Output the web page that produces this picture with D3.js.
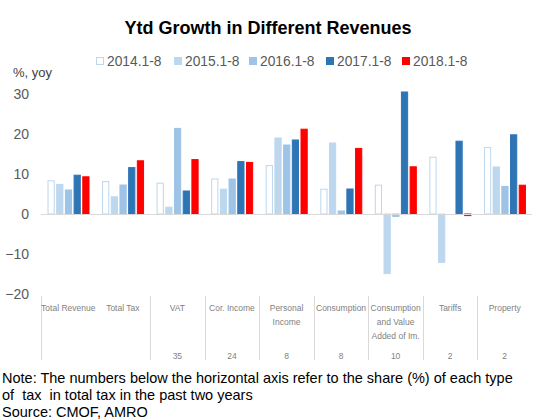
<!DOCTYPE html>
<html><head><meta charset="utf-8">
<script src="https://cdn.jsdelivr.net/npm/d3@7"></script>
<style>body{margin:0;background:#fff;}svg{display:block;}</style>
</head><body>
<script>
const categories = [["Total Revenue"],["Total Tax"],["VAT"],["Cor. Income"],["Personal","Income"],["Consumption"],["Consumption","and Value","Added of Im."],["Tariffs"],["Property"]];
const shares = ["","","35","24","8","8","10","2","2"];
const seriesNames = ["2014.1-8","2015.1-8","2016.1-8","2017.1-8","2018.1-8"];
const s2014 = [8.3, 8.1, 7.7, 8.75, 12.1, 6.2, 7.2, 14.2, 16.6];
const s2015 = [7.4, 4.3, 1.7, 6.2, 19.0, 17.75, -14.9, -12.1, 11.75];
const s2016 = [6.0, 7.25, 21.4, 8.75, 17.25, 0.75, -0.6, 0, 6.9];
const s2017 = [9.7, 11.6, 5.75, 13.1, 18.5, 6.25, 30.5, 18.2, 19.8];
const s2018 = [9.3, 13.3, 13.6, 12.9, 21.2, 16.4, 11.8, -0.4, 7.2];
const yTicks = [-20,-10,0,10,20,30];

const series = [s2014,s2015,s2016,s2017,s2018];
const fills = ["#ffffff","#bdd7ee","#9dc3e6","#2e75b6","#ff0000"];
const strokes = ["#bdd7ee","#bdd7ee","#9dc3e6","#2e75b6","#ff0000"];

const W=535,H=420;
const svg=d3.select("body").append("svg").attr("width",W).attr("height",H);
const font="'Liberation Sans', Arial, sans-serif";

svg.append("text").attr("x",268).attr("y",34).attr("text-anchor","middle")
  .attr("font-family",font).attr("font-weight","bold").attr("font-size",18).attr("fill","#000")
  .text("Ytd Growth in Different Revenues");

// legend
const legX=[96,174,249,326,402];
seriesNames.forEach((n,i)=>{
  svg.append("rect").attr("x",legX[i]+0.5).attr("y",57.5).attr("width",7).attr("height",7)
    .attr("fill",fills[i]).attr("stroke",strokes[i]).attr("stroke-width",1);
  svg.append("text").attr("x",legX[i]+11).attr("y",66).attr("font-family",font).attr("font-size",13.8)
    .attr("fill","#595959").text(n);
});

svg.append("text").attr("x",13).attr("y",77).attr("font-family",font).attr("font-size",13)
  .attr("fill","#404040").text("%, yoy");

const y=d3.scaleLinear().domain([-20,30]).range([294,94]);
const x=d3.scaleBand().domain(d3.range(categories.length)).range([41,532]).padding(0);
const xs=d3.scaleBand().domain(d3.range(series.length)).range([6.5,48.5]).paddingInner(0.17);

const yAxis=d3.axisLeft(y).tickValues(yTicks).tickSize(0).tickPadding(0).tickFormat(d3.format("d"));
const ga=svg.append("g").attr("transform","translate(29,0)").call(yAxis);
ga.select(".domain").remove();
ga.selectAll("text").attr("font-family",font).attr("font-size",14).attr("fill","#595959").attr("dy","0.35em");

// bars
series.forEach((s,si)=>{
  svg.append("g").selectAll("rect").data(s).join("rect")
    .attr("x",(d,i)=>x(i)+xs(si)+0.5)
    .attr("y",d=>y(Math.max(0,d)))
    .attr("width",xs.bandwidth()-1)
    .attr("height",d=>Math.abs(y(d)-y(0)))
    .attr("fill",fills[si]).attr("stroke",strokes[si]).attr("stroke-width",1);
});

// zero line
svg.append("line").attr("x1",41).attr("x2",532).attr("y1",y(0)+0.5).attr("y2",y(0)+0.5)
  .attr("stroke","#d9d9d9").attr("stroke-width",1);

// separators
const sepIdx=[0,2,3,4,5,6,7,8];
sepIdx.forEach(i=>{
  svg.append("line").attr("x1",Math.round(x(i))+0.5).attr("x2",Math.round(x(i))+0.5).attr("y1",296).attr("y2",360)
    .attr("stroke","#d9d9d9").attr("stroke-width",1);
});

// category labels
categories.forEach((lines,i)=>{
  const cx=x(i)+x.bandwidth()/2;
  lines.forEach((t,j)=>{
    svg.append("text").attr("x",cx).attr("y",311+j*14).attr("text-anchor","middle")
      .attr("font-family",font).attr("font-size",8.5).attr("fill","#7f7f7f").text(t);
  });
  svg.append("text").attr("x",cx).attr("y",359).attr("text-anchor","middle")
    .attr("font-family",font).attr("font-size",8.5).attr("fill","#7f7f7f").text(shares[i]);
});

const notes=["Note: The numbers below the horizontal axis refer to the share (%) of each type","of  tax  in total tax in the past two years","Source: CMOF, AMRO"];
notes.forEach((t,i)=>{
  svg.append("text").attr("x",2).attr("y",383+i*17).attr("font-family",font).attr("font-size",14.5)
    .attr("fill","#000").attr("xml:space","preserve").style("white-space","pre").text(t);
});
</script>
</body></html>
